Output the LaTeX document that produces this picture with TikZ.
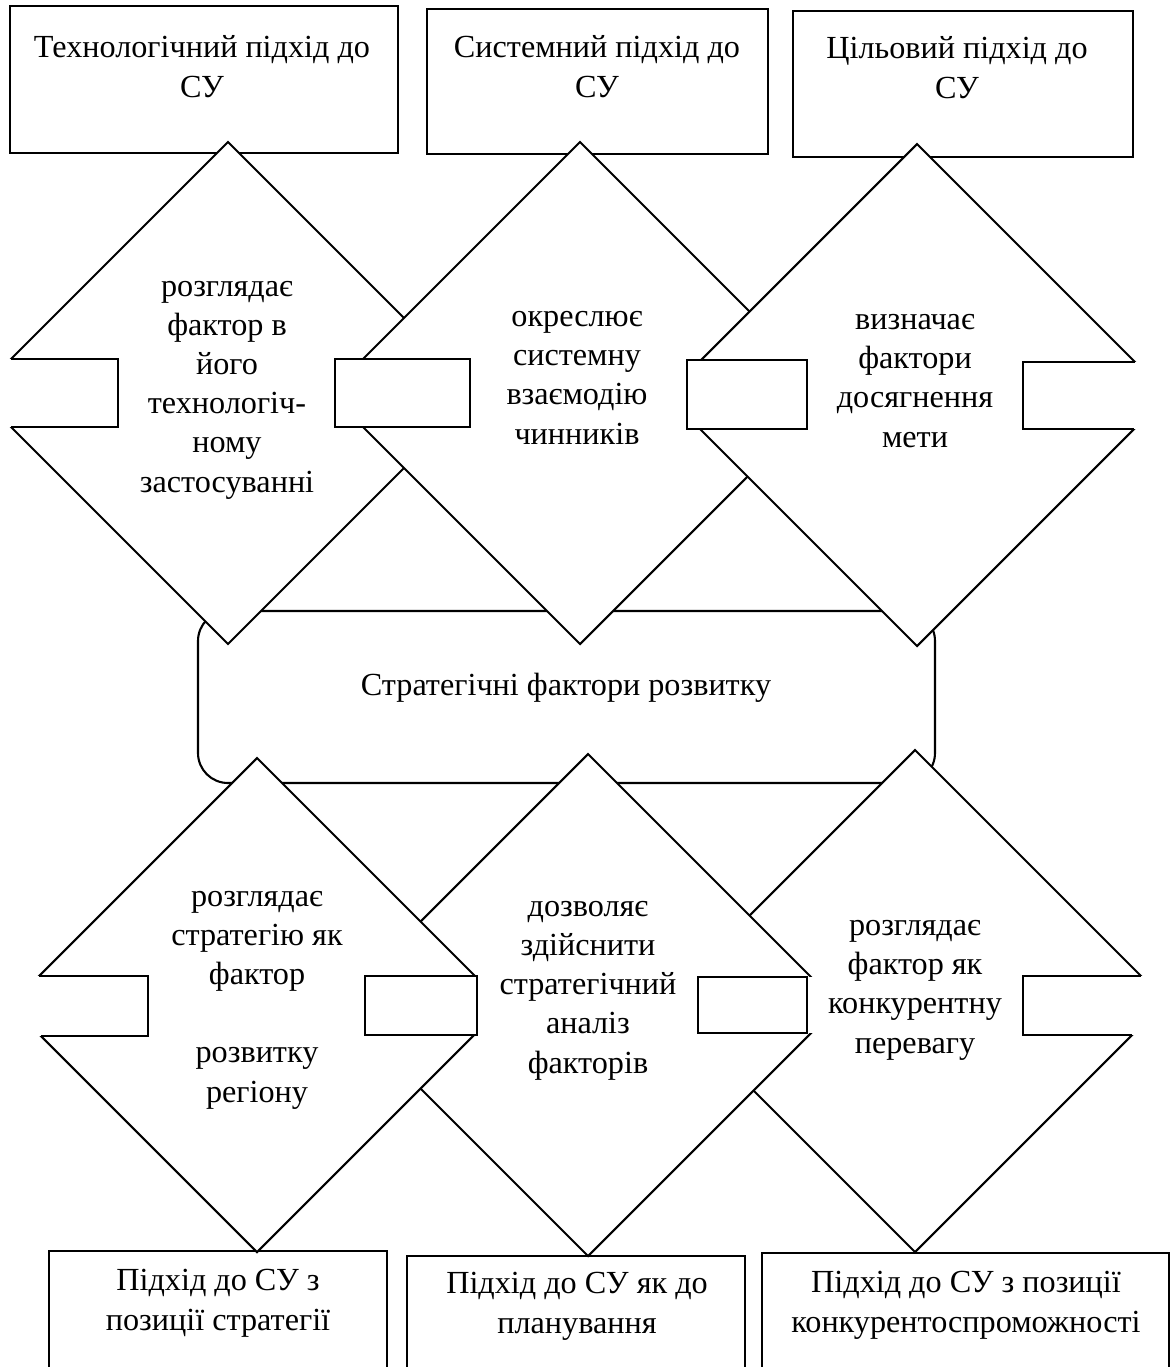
\documentclass[tikz,border=0pt]{standalone}
\usepackage{fontspec}
\setmainfont{Liberation Serif}
\begin{document}
\begin{tikzpicture}[x=0.5pt,y=-0.5pt,
  line width=1.05pt, line join=miter,
  shapeline/.style={draw=black, fill=white},
  txt/.style={align=center, inner sep=0pt, anchor=base,
    font=\fontsize{16.1}{19.6}\selectfont},
]
\useasboundingbox (0,0) rectangle (1171,1367);
\clip (0,0) rectangle (1171,1367);
\fill[white] (0,0) rectangle (1171,1367);

% central rounded block
\draw[shapeline, rounded corners=15pt] (198,611) rectangle (935,783);

% approach boxes, top and bottom
\draw[shapeline] (10,6) rectangle (398,153);
\draw[shapeline] (427,9) rectangle (768,154);
\draw[shapeline] (793,11) rectangle (1133,157);
\draw[shapeline] (49,1251) rectangle (387,1390);
\draw[shapeline] (407,1256) rectangle (745,1390);
\draw[shapeline] (762,1253) rectangle (1169,1390);

% upper row of diamonds (each one lies over the previous one)
\draw[shapeline] (228,142) -- (479,393) -- (228,644) -- (-23,393) -- cycle;
\draw[shapeline] (580,142) -- (831,393) -- (580,644) -- (329,393) -- cycle;
\draw[shapeline] (917,144) -- (1168,395) -- (917,646) -- (666,395) -- cycle;

% side tabs of the upper row; each tab hides the diamond points behind it
\fill[white] (-10,359) rectangle (118,427);
\draw (11,359) -- (118,359) -- (118,427) -- (11,427);
\fill[white] (322,359) rectangle (470,427);
\draw (335,359) rectangle (470,427);
\fill[white] (660,360) rectangle (807,429);
\draw (687,360) rectangle (807,429);
\fill[white] (1023,362) rectangle (1180,429);
\draw (1135,362) -- (1023,362) -- (1023,429) -- (1134,429);

% lower row of diamonds (each one lies over the next one)
\draw[shapeline] (915,750) -- (1166,1001) -- (915,1252) -- (664,1001) -- cycle;
\draw[shapeline] (588,754) -- (839,1005) -- (588,1256) -- (337,1005) -- cycle;
\draw[shapeline] (257,758) -- (504,1005) -- (257,1252) -- (10,1005) -- cycle;

% side tabs of the lower row
\fill[white] (-10,976) rectangle (148,1036);
\draw (39,976) -- (148,976) -- (148,1036) -- (41,1036);
\fill[white] (365,976) rectangle (512,1035);
\draw (365,976) rectangle (477,1035);
\fill[white] (698,977) rectangle (846,1033);
\draw (698,977) rectangle (807,1033);
\fill[white] (1023,976) rectangle (1180,1035);
\draw (1141,976) -- (1023,976) -- (1023,1035) -- (1132,1035);

% labels (anchored at the baseline of their last line)
\node[txt] (c) at (566,695) {Стратегічні фактори розвитку};

\node[txt] (t1) at (202,97) {Технологічний підхід до\\СУ};
\node[txt] (t2) at (597,97) {Системний підхід до\\СУ};
\node[txt] (t3) at (957,98) {Цільовий підхід до\\СУ};

\node[txt] (d1) at (227,492) {розглядає\\фактор в\\його\\технологіч-\\ному\\застосуванні};
\node[txt] (d2) at (577,444) {окреслює\\системну\\взаємодію\\чинників};
\node[txt] (d3) at (915,447) {визначає\\фактори\\досягнення\\мети};

\node[txt] (d4) at (257,1102) {розглядає\\стратегію як\\фактор\\[19.6pt]розвитку\\регіону};
\node[txt] (d5) at (588,1073) {дозволяє\\здійснити\\стратегічний\\аналіз\\факторів};
\node[txt] (d6) at (915,1053) {розглядає\\фактор як\\конкурентну\\перевагу};

\node[txt] (b1) at (218,1330) {Підхід до СУ з\\позиції стратегії};
\node[txt] (b2) at (577,1333) {Підхід до СУ як до\\планування};
\node[txt] (b3) at (966,1332) {Підхід до СУ з позиції\\конкурентоспроможності};
\end{tikzpicture}
\end{document}
